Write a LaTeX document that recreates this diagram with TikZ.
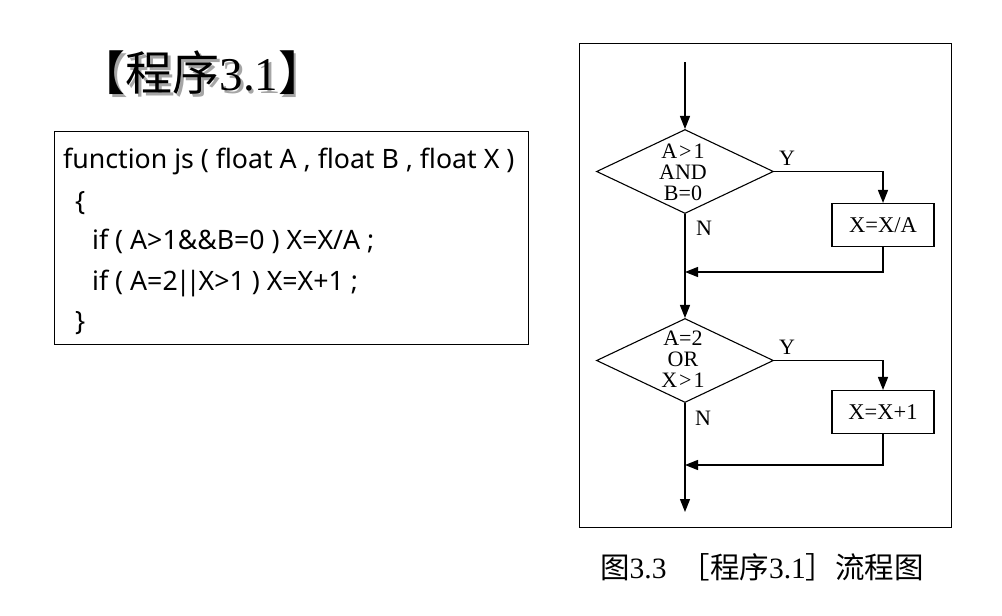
\documentclass[tikz,border=0pt]{standalone}
\usepackage{fontspec}
\setmainfont{Liberation Serif}
\newfontfamily\cjk{Noto Sans CJK SC}
\newfontfamily\codefont{Noto Sans}
\usetikzlibrary{shapes.geometric,arrows.meta}
\tikzset{
  flowline/.style={line width=1.3pt,-{Triangle[length=13pt,width=10pt]}},
  decision/.style={diamond,draw,line width=1.1pt,inner sep=0pt,minimum width=177pt,minimum height=84pt},
  procbox/.style={rectangle,draw,line width=1.1pt,inner sep=0pt,minimum width=102pt,minimum height=43pt,font=\fontsize{22.5}{24}\selectfont},
  dtext/.style={align=center,font=\fontsize{22}{21}\selectfont,inner sep=0pt},
  yn/.style={font=\fontsize{22}{24}\selectfont,inner sep=0pt},
  codeline/.style={anchor=base west,inner sep=0pt,font=\codefont\fontsize{26.7}{28}\selectfont},
  titletext/.style={inner sep=0pt,font=\fontsize{47}{50}\selectfont},
}
\begin{document}
\begin{tikzpicture}[x=1pt,y=-1pt]
\useasboundingbox (0,0) rectangle (1002,616);
\fill[white] (0,0) rectangle (1002,616);
% title with shadow
\node[titletext,text=black!35] (titleshadow) at (204.5,75.5) {\cjk 【程序\rmfamily 3.1\cjk 】};
\node[titletext] (title) at (202,73) {\cjk 【程序\rmfamily 3.1\cjk 】};
% code box
\node[draw,line width=1pt,minimum width=474pt,minimum height=213pt,inner sep=0pt] (codebox) at (291,237.5) {};
\node[codeline] (c1) at (63,168) {function js ( float A , float B , float X )};
\node[codeline] (c2) at (75,210) {\{};
\node[codeline] (c3) at (92,249) {if ( A>1\&\&B=0 ) X=X/A ;};
\node[codeline] (c4) at (92,290) {if ( A=2\kern-2pt|\kern-4.5pt|\kern-2pt X>1 ) X=X+1 ;};
\node[codeline] (c5) at (75,330) {\}};
% flowchart frame
\node[draw,line width=1pt,minimum width=372pt,minimum height=484pt,inner sep=0pt] (frame) at (765,285) {};
\coordinate (start) at (685,62);
\node[decision] (d1) at (685,171.5) {};
\node[dtext] (t1) at (683,172) {A\kern2pt>\kern2pt1\\AND\\B=0};
\node[procbox] (b1) at (883,225) {X=X/A};
\coordinate (j1) at (685,272);
\node[decision] (d2) at (685,360.5) {};
\node[dtext] (t2) at (683,359) {A=2\\OR\\X\kern2pt>\kern2pt1};
\node[procbox] (b2) at (883,412) {X=X+1};
\coordinate (j2) at (685,465);
\coordinate (end) at (685,512);
\node[yn] (y1) at (787,158) {Y};
\node[yn] (n1) at (704,228) {N};
\node[yn] (y2) at (787,347) {Y};
\node[yn] (n2) at (703,418) {N};
\draw[flowline] (start) -- (d1.north);
\draw[flowline] (d1.east) -| (b1.north);
\draw[flowline] (b1.south) |- (j1);
\draw[flowline] (d1.south) -- (d2.north);
\draw[flowline] (d2.east) -| (b2.north);
\draw[flowline] (b2.south) |- (j2);
\draw[flowline] (d2.south) -- (end);
% caption
\node[anchor=west,inner sep=0pt] (cap) at (600,567) {\fontsize{29.5}{31}\selectfont\cjk 图\rmfamily 3.3\kern14pt\cjk ［程序\rmfamily 3.1\cjk ］流程图};
\end{tikzpicture}
\end{document}
